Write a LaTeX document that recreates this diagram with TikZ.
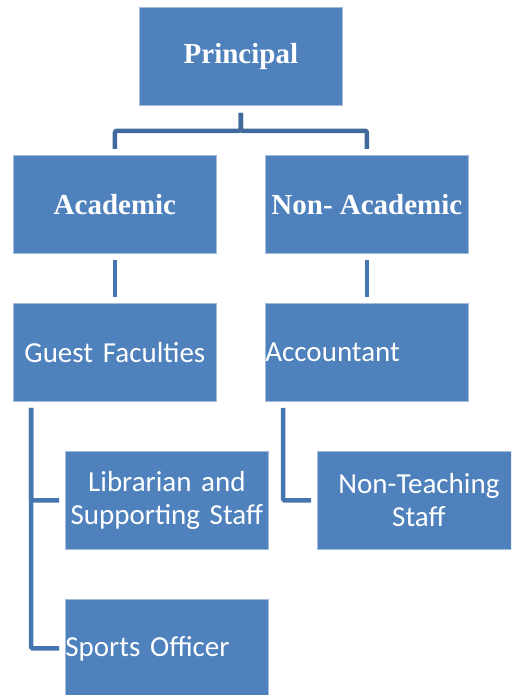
\documentclass[tikz,border=0pt]{standalone}
\usepackage{fontspec}
\setmainfont{Liberation Serif}
\newfontfamily\orgsans{Carlito}
\definecolor{orgFill}{HTML}{4F81BD}
\definecolor{orgEdge}{HTML}{A3BCDD}
\definecolor{orgLineTop}{HTML}{3F6A9B}
\definecolor{orgLine}{HTML}{4676B0}
\newcommand\orgBoxW{203}
\newcommand\orgBoxH{98}
\newcommand\orgLineW{4.5pt}
\newcommand\orgStem{18pt}
\tikzset{
	orgbox/.style={draw=orgEdge, line width=0.8pt, fill=orgFill, text=white,
		minimum width=\orgBoxW pt, minimum height=\orgBoxH pt, inner sep=0pt, anchor=north west},
	headtext/.style={font=\fontsize{29}{33}\selectfont\bfseries},
	stafftext/.style={font=\orgsans\fontsize{29}{33}\selectfont, text width=\orgBoxW pt, align=center},
	staffleft/.style={stafftext, align=left},
	topline/.style={line width=\orgLineW, color=orgLineTop, rounded corners=2pt, shorten <=7pt, shorten >=6pt},
	orgline/.style={line width=\orgLineW, color=orgLine, rounded corners=1.5pt, shorten <=6pt, shorten >=6pt}
}

\begin{document}
\begin{tikzpicture}[x=1pt,y=-1pt]
	\clip (0,0) rectangle (511,695);
	
	\node[orgbox, headtext] (principal) at (139,7) {Principal};
	\node[orgbox, headtext] (academic) at (13,155) {Academic};
	\node[orgbox, headtext] (nonacademic) at (265,155) {Non- Academic};
	\node[orgbox, stafftext] (guest) at (13,303) {Guest Faculties};
	\node[orgbox, staffleft] (accountant) at (265,303) {Accountant};
	\node[orgbox, stafftext] (librarian) at (65,451) {Librarian and\\Supporting Staff};
	\node[orgbox, stafftext] (nonteaching) at (317,451) {Non-Teaching\\Staff};
	\node[orgbox, staffleft] (sports) at (65,599) {Sports Officer};
	
	\foreach \dept in {academic,nonacademic}{
		\draw[topline] (principal.south) -- ++(0,25) -| (\dept.north);
	}
	\foreach \dept/\role in {academic/guest,nonacademic/accountant}{
		\draw[orgline] (\dept.south) -- (\role.north);
	}
	\foreach \role in {librarian,sports}{
		\draw[orgline] ([xshift=\orgStem]guest.south west) |- (\role.west);
	}
	\draw[orgline] ([xshift=\orgStem]accountant.south west) |- (nonteaching.west);
	%\draw[orgline] (accountant.south) -- ++(0,20);
\end{tikzpicture}
\end{document}
